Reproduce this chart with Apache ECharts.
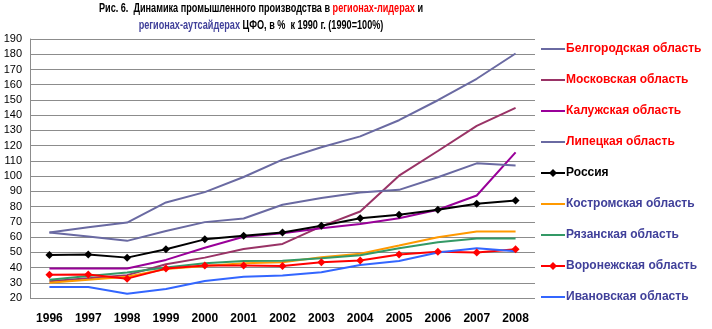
<!DOCTYPE html>
<html>
<head>
<meta charset="utf-8">
<script src="https://cdn.jsdelivr.net/npm/echarts@6/dist/echarts.min.js"></script>
<style>
  html, body { margin: 0; padding: 0; background: #fff; }
  #chart { width: 712px; height: 329px; }
</style>
</head>
<body>
<div id="chart"></div>
<script>
// Годы наблюдения
const years = ['1996','1997','1998','1999','2000','2001','2002','2003','2004','2005','2006','2007','2008'];

// Индексы промышленного производства, % к 1990 г.
const belgorod  = [63, 66.5, 69.5, 82.7, 89.5, 99.4, 110.8, 118.9, 126.1, 136.7, 149.8, 163.9, 180.5];
const moscow    = [31, 33, 35, 42.2, 46.5, 52.2, 55.5, 67, 76.8, 100.3, 116.5, 133, 144.8];
const kaluga    = [39.3, 39.3, 39.3, 45, 53, 60.2, 62.5, 65.8, 68.5, 72.4, 77.9, 87.3, 115.6];
const lipetsk   = [63, 60.3, 57.5, 64, 69.8, 72.2, 81.2, 85.6, 89.3, 91, 99.3, 108.4, 107];
const russia    = [48.3, 48.6, 46.5, 52, 58.5, 60.9, 63, 67.4, 72.4, 74.6, 77.9, 81.8, 84];
const kostroma  = [30, 32, 34, 39, 41, 42.8, 43.5, 46.8, 49, 54.4, 59.9, 63.6, 63.6];
const ryazan    = [32, 34.5, 36.7, 40, 42.8, 44.3, 44.5, 46.1, 48, 52.7, 56.6, 59, 59];
const voronezh  = [35.3, 35.5, 32.7, 39.3, 41.3, 41.3, 41, 43.5, 44.6, 48.5, 50.4, 49.8, 52];
const ivanovo   = [27.2, 27.2, 22.8, 25.9, 31.2, 34, 34.7, 36.9, 41.7, 44.3, 49.8, 52.7, 50.7];

const RED = '#ff0000';
const BLUE_TXT = '#40409a';

const seriesDefs = [
  { name: 'Белгородская область', data: belgorod, color: '#6a6aa2', text: RED },
  { name: 'Московская область',   data: moscow,   color: '#993366', text: RED },
  { name: 'Калужская область',    data: kaluga,   color: '#990099', text: RED },
  { name: 'Липецкая область',     data: lipetsk,  color: '#6a6aa2', text: RED },
  { name: 'Россия',               data: russia,   color: '#000000', text: '#000000', marker: true },
  { name: 'Костромская область',  data: kostroma, color: '#ff9900', text: BLUE_TXT },
  { name: 'Рязанская область',    data: ryazan,   color: '#339966', text: BLUE_TXT },
  { name: 'Воронежская область',  data: voronezh, color: '#ff0000', text: BLUE_TXT, marker: true },
  { name: 'Ивановская область',   data: ivanovo,  color: '#3366ff', text: BLUE_TXT }
];

const FONT = 'Arial, "Liberation Sans", sans-serif';
const titleStyle = (color) => ({ fontFamily: FONT, fontWeight: 'bold', fontSize: 12, fill: color, lineHeight: 17 });

const chart = echarts.init(document.getElementById('chart'), null, { renderer: 'canvas' });

chart.setOption({
  animation: false,
  backgroundColor: '#fff',
  // Заголовок в узком начертании: сжатие по горизонтали
  graphic: [{
    type: 'text',
    x: 261,
    y: 0,
    scaleX: 0.76,
    silent: true,
    style: {
      text: '{b|Рис. 6.  Динамика промышленного производства в }{r|регионах-лидерах}{b| и}\n' +
            '{v|регионах-аутсайдерах}{b| ЦФО, в %  к 1990 г. (1990=100%)}',
      align: 'center',
      verticalAlign: 'top',
      fill: '#000',
      font: 'bold 12px ' + FONT,
      rich: {
        b: titleStyle('#000'),
        r: titleStyle(RED),
        v: titleStyle(BLUE_TXT)
      }
    }
  }],
  legend: {
    orient: 'vertical',
    left: 540,
    top: 43,
    itemWidth: 24,
    itemHeight: 10,
    itemGap: 19,
    padding: 0,
    data: seriesDefs.map(s => ({
      name: s.name,
      itemStyle: s.marker ? undefined : { opacity: 0 },
      textStyle: { color: s.text }
    })),
    textStyle: { fontFamily: FONT, fontWeight: 'bold', fontSize: 12, padding: [0, 0, 0, -4] }
  },
  grid: { left: 30, right: 177, top: 39, bottom: 31, containLabel: false },
  xAxis: {
    type: 'category',
    data: years,
    boundaryGap: true,
    axisLine: { show: false },
    axisTick: { show: false },
    axisLabel: { fontFamily: FONT, fontWeight: 'bold', fontSize: 12, color: '#000', margin: 15 }
  },
  yAxis: {
    type: 'value',
    min: 20,
    max: 190,
    interval: 10,
    axisLine: { show: true, lineStyle: { color: '#8c8c8c', width: 1 } },
    axisTick: { show: false },
    axisLabel: { fontFamily: FONT, fontSize: 11, color: '#000', margin: 8 },
    splitLine: { lineStyle: { color: '#8c8c8c', width: 1 } }
  },
  series: seriesDefs.map(s => ({
    name: s.name,
    type: 'line',
    data: s.data,
    color: s.color,
    symbol: s.marker ? 'diamond' : 'none',
    symbolSize: s.marker ? 8 : 0,
    showSymbol: !!s.marker,
    lineStyle: { width: 2, color: s.color },
    itemStyle: { color: s.color },
    emphasis: { disabled: true }
  }))
});
</script>
</body>
</html>
